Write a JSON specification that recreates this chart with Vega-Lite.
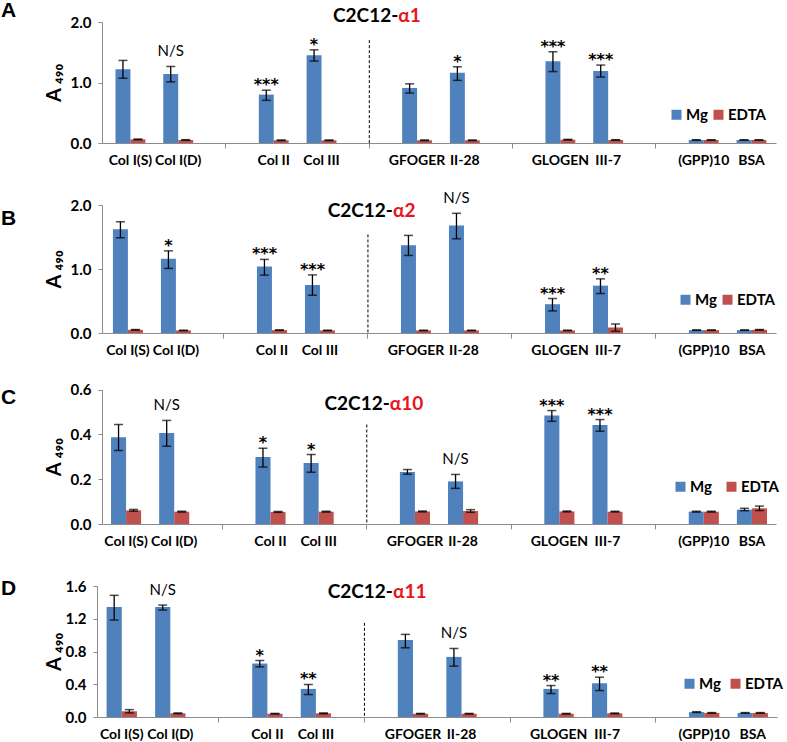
{
  "$schema": "https://vega.github.io/schema/vega-lite/v6.json",
  "padding": {"left": 1, "top": 0, "right": 0, "bottom": 0},
  "background": "white",
  "datasets": {
    "bars": [
      {"p":"A","cat":"Col I(S)","cond":"Mg","v":1.22,"lo":1.07,"hi":1.365},
      {"p":"A","cat":"Col I(S)","cond":"EDTA","v":0.06,"lo":0.054,"hi":0.066},
      {"p":"A","cat":"Col I(D)","cond":"Mg","v":1.14,"lo":1.01,"hi":1.265,"sig":"N/S"},
      {"p":"A","cat":"Col I(D)","cond":"EDTA","v":0.05,"lo":0.045,"hi":0.055},
      {"p":"A","cat":"Col II","cond":"Mg","v":0.8,"lo":0.705,"hi":0.873,"sig":"***"},
      {"p":"A","cat":"Col II","cond":"EDTA","v":0.045,"lo":0.04,"hi":0.05},
      {"p":"A","cat":"Col III","cond":"Mg","v":1.45,"lo":1.355,"hi":1.54,"sig":"*"},
      {"p":"A","cat":"Col III","cond":"EDTA","v":0.045,"lo":0.04,"hi":0.05},
      {"p":"A","cat":"GFOGER","cond":"Mg","v":0.91,"lo":0.825,"hi":0.978},
      {"p":"A","cat":"GFOGER","cond":"EDTA","v":0.045,"lo":0.04,"hi":0.05},
      {"p":"A","cat":"II-28","cond":"Mg","v":1.16,"lo":1.035,"hi":1.26,"sig":"*"},
      {"p":"A","cat":"II-28","cond":"EDTA","v":0.045,"lo":0.04,"hi":0.05},
      {"p":"A","cat":"GLOGEN","cond":"Mg","v":1.35,"lo":1.18,"hi":1.508,"sig":"***"},
      {"p":"A","cat":"GLOGEN","cond":"EDTA","v":0.055,"lo":0.05,"hi":0.06},
      {"p":"A","cat":"III-7","cond":"Mg","v":1.19,"lo":1.09,"hi":1.288,"sig":"***"},
      {"p":"A","cat":"III-7","cond":"EDTA","v":0.05,"lo":0.045,"hi":0.055},
      {"p":"A","cat":"(GPP)10","cond":"Mg","v":0.05,"lo":0.047,"hi":0.053},
      {"p":"A","cat":"(GPP)10","cond":"EDTA","v":0.05,"lo":0.047,"hi":0.053},
      {"p":"A","cat":"BSA","cond":"Mg","v":0.05,"lo":0.047,"hi":0.053},
      {"p":"A","cat":"BSA","cond":"EDTA","v":0.05,"lo":0.047,"hi":0.053},

      {"p":"B","cat":"Col I(S)","cond":"Mg","v":1.62,"lo":1.488,"hi":1.738},
      {"p":"B","cat":"Col I(S)","cond":"EDTA","v":0.05,"lo":0.046,"hi":0.054},
      {"p":"B","cat":"Col I(D)","cond":"Mg","v":1.16,"lo":1.009,"hi":1.284,"sig":"*"},
      {"p":"B","cat":"Col I(D)","cond":"EDTA","v":0.04,"lo":0.036,"hi":0.044},
      {"p":"B","cat":"Col II","cond":"Mg","v":1.04,"lo":0.904,"hi":1.15,"sig":"***"},
      {"p":"B","cat":"Col II","cond":"EDTA","v":0.045,"lo":0.041,"hi":0.049},
      {"p":"B","cat":"Col III","cond":"Mg","v":0.75,"lo":0.59,"hi":0.908,"sig":"***"},
      {"p":"B","cat":"Col III","cond":"EDTA","v":0.04,"lo":0.036,"hi":0.044},
      {"p":"B","cat":"GFOGER","cond":"Mg","v":1.37,"lo":1.212,"hi":1.525},
      {"p":"B","cat":"GFOGER","cond":"EDTA","v":0.04,"lo":0.036,"hi":0.044},
      {"p":"B","cat":"II-28","cond":"Mg","v":1.68,"lo":1.472,"hi":1.87,"sig":"N/S"},
      {"p":"B","cat":"II-28","cond":"EDTA","v":0.04,"lo":0.036,"hi":0.044},
      {"p":"B","cat":"GLOGEN","cond":"Mg","v":0.45,"lo":0.345,"hi":0.539,"sig":"***"},
      {"p":"B","cat":"GLOGEN","cond":"EDTA","v":0.04,"lo":0.036,"hi":0.044},
      {"p":"B","cat":"III-7","cond":"Mg","v":0.74,"lo":0.617,"hi":0.846,"sig":"**"},
      {"p":"B","cat":"III-7","cond":"EDTA","v":0.085,"lo":0.027,"hi":0.141},
      {"p":"B","cat":"(GPP)10","cond":"Mg","v":0.045,"lo":0.042,"hi":0.048},
      {"p":"B","cat":"(GPP)10","cond":"EDTA","v":0.045,"lo":0.042,"hi":0.048},
      {"p":"B","cat":"BSA","cond":"Mg","v":0.045,"lo":0.042,"hi":0.048},
      {"p":"B","cat":"BSA","cond":"EDTA","v":0.05,"lo":0.046,"hi":0.054},

      {"p":"C","cat":"Col I(S)","cond":"Mg","v":0.387,"lo":0.328,"hi":0.444},
      {"p":"C","cat":"Col I(S)","cond":"EDTA","v":0.061,"lo":0.057,"hi":0.065},
      {"p":"C","cat":"Col I(D)","cond":"Mg","v":0.406,"lo":0.347,"hi":0.462,"sig":"N/S"},
      {"p":"C","cat":"Col I(D)","cond":"EDTA","v":0.055,"lo":0.053,"hi":0.057},
      {"p":"C","cat":"Col II","cond":"Mg","v":0.299,"lo":0.254,"hi":0.338,"sig":"*"},
      {"p":"C","cat":"Col II","cond":"EDTA","v":0.054,"lo":0.052,"hi":0.056},
      {"p":"C","cat":"Col III","cond":"Mg","v":0.272,"lo":0.231,"hi":0.31,"sig":"*"},
      {"p":"C","cat":"Col III","cond":"EDTA","v":0.055,"lo":0.053,"hi":0.057},
      {"p":"C","cat":"GFOGER","cond":"Mg","v":0.232,"lo":0.222,"hi":0.243},
      {"p":"C","cat":"GFOGER","cond":"EDTA","v":0.056,"lo":0.054,"hi":0.058},
      {"p":"C","cat":"II-28","cond":"Mg","v":0.19,"lo":0.159,"hi":0.221,"sig":"N/S"},
      {"p":"C","cat":"II-28","cond":"EDTA","v":0.058,"lo":0.052,"hi":0.064},
      {"p":"C","cat":"GLOGEN","cond":"Mg","v":0.484,"lo":0.458,"hi":0.506,"sig":"***"},
      {"p":"C","cat":"GLOGEN","cond":"EDTA","v":0.056,"lo":0.054,"hi":0.058},
      {"p":"C","cat":"III-7","cond":"Mg","v":0.442,"lo":0.414,"hi":0.466,"sig":"***"},
      {"p":"C","cat":"III-7","cond":"EDTA","v":0.055,"lo":0.053,"hi":0.057},
      {"p":"C","cat":"(GPP)10","cond":"Mg","v":0.055,"lo":0.053,"hi":0.057},
      {"p":"C","cat":"(GPP)10","cond":"EDTA","v":0.055,"lo":0.053,"hi":0.057},
      {"p":"C","cat":"BSA","cond":"Mg","v":0.064,"lo":0.059,"hi":0.07},
      {"p":"C","cat":"BSA","cond":"EDTA","v":0.07,"lo":0.06,"hi":0.08},

      {"p":"D","cat":"Col I(S)","cond":"Mg","v":1.343,"lo":1.184,"hi":1.486},
      {"p":"D","cat":"Col I(S)","cond":"EDTA","v":0.07,"lo":0.05,"hi":0.09},
      {"p":"D","cat":"Col I(D)","cond":"Mg","v":1.343,"lo":1.306,"hi":1.367,"sig":"N/S"},
      {"p":"D","cat":"Col I(D)","cond":"EDTA","v":0.045,"lo":0.04,"hi":0.05},
      {"p":"D","cat":"Col II","cond":"Mg","v":0.653,"lo":0.612,"hi":0.69,"sig":"*"},
      {"p":"D","cat":"Col II","cond":"EDTA","v":0.04,"lo":0.036,"hi":0.044},
      {"p":"D","cat":"Col III","cond":"Mg","v":0.343,"lo":0.274,"hi":0.397,"sig":"**"},
      {"p":"D","cat":"Col III","cond":"EDTA","v":0.045,"lo":0.04,"hi":0.05},
      {"p":"D","cat":"GFOGER","cond":"Mg","v":0.939,"lo":0.845,"hi":1.009},
      {"p":"D","cat":"GFOGER","cond":"EDTA","v":0.04,"lo":0.036,"hi":0.044},
      {"p":"D","cat":"II-28","cond":"Mg","v":0.734,"lo":0.621,"hi":0.837,"sig":"N/S"},
      {"p":"D","cat":"II-28","cond":"EDTA","v":0.04,"lo":0.036,"hi":0.044},
      {"p":"D","cat":"GLOGEN","cond":"Mg","v":0.343,"lo":0.286,"hi":0.384,"sig":"**"},
      {"p":"D","cat":"GLOGEN","cond":"EDTA","v":0.04,"lo":0.036,"hi":0.044},
      {"p":"D","cat":"III-7","cond":"Mg","v":0.412,"lo":0.323,"hi":0.486,"sig":"**"},
      {"p":"D","cat":"III-7","cond":"EDTA","v":0.045,"lo":0.04,"hi":0.05},
      {"p":"D","cat":"(GPP)10","cond":"Mg","v":0.06,"lo":0.055,"hi":0.065},
      {"p":"D","cat":"(GPP)10","cond":"EDTA","v":0.05,"lo":0.046,"hi":0.054},
      {"p":"D","cat":"BSA","cond":"Mg","v":0.05,"lo":0.046,"hi":0.054},
      {"p":"D","cat":"BSA","cond":"EDTA","v":0.05,"lo":0.046,"hi":0.054}
    ],
    "titles": [
      {"p":"A","pre":"C2C12-","sub":"α1"},
      {"p":"B","pre":"C2C12-","sub":"α2"},
      {"p":"C","pre":"C2C12-","sub":"α10"},
      {"p":"D","pre":"C2C12-","sub":"α11"}
    ]
  },
  "config": {
    "view": {"stroke": null},
    "axis": {"grid": false, "domainColor": "#8c8c8c", "tickColor": "#8c8c8c", "labelColor": "#000", "labelFont": "Lato", "labelFontWeight": "bold", "titleColor": "#000"},
    "axisX": {"labelFontSize": 14, "labelAngle": 0, "tickSize": 5, "labelPadding": 5, "labelOverlap": false},
    "axisY": {"labelFontSize": 15, "tickSize": 4, "labelPadding": 7, "labelOverlap": false, "titleFont": "Lato", "titleFontSize": 20, "titleFontWeight": "bold", "titlePadding": 6},
    "legend": {"orient": "none", "direction": "horizontal", "symbolType": "square", "symbolSize": 100, "symbolStrokeWidth": 0, "labelFont": "Lato", "labelFontSize": 15, "labelFontWeight": "bold", "labelColor": "#000", "labelOffset": 2, "padding": 0},
    "title": {"anchor": "start", "frame": "group", "dx": -101, "font": "Liberation Sans", "fontSize": 21, "fontWeight": "bold", "color": "#000", "offset": 0},
    "text": {"font": "Lato"}
  },
  "bounds": "flush",
  "spacing": 56,
  "resolve": {"scale": {"x": "independent", "y": "independent", "color": "independent", "xOffset": "independent"}, "legend": {"color": "independent"}},
  "vconcat": [
    {
      "title": {"text": "A", "dy": 18},
      "width": 674,
      "height": 121,
      "data": {"name": "bars"},
      "transform": [{"filter": "datum.p === 'A'"}],
      "layer": [
        {
          "mark": {"type": "bar"},
          "encoding": {
            "x": {"field": "cat", "type": "nominal", "title": null,
              "scale": {"domain": ["Col I(S)","Col I(D)","_1","Col II","Col III","_2","GFOGER","II-28","_3","GLOGEN","III-7","_4","(GPP)10","BSA"], "paddingInner": 0, "paddingOuter": 0.054, "align": 0.88},
              "axis": {"labelExpr": "indexof(datum.value,'_') === 0 ? '' : datum.label", "tickOpacity": {"condition": {"test": "indexof(datum.value,'_') === 0", "value": 1}, "value": 0}}},
            "xOffset": {"field": "cond", "type": "nominal", "scale": {"domain": ["Mg","EDTA"], "paddingInner": 0, "paddingOuter": 0.6}},
            "y": {"field": "v", "type": "quantitative", "title": "A ₄₉₀", "scale": {"domain": [0, 2], "nice": false, "range": [121, 0]}, "axis": {"values": [0, 1, 2], "format": ".1f", "labelOverlap": false}},
            "color": {"field": "cond", "type": "nominal", "scale": {"domain": ["Mg","EDTA"], "range": ["#4F81BD","#C0504D"]}, "legend": {"title": null, "legendX": 567, "legendY": 85, "columnPadding": 3}}
          }
        },
        {
          "mark": {"type": "rule", "color": "#000", "strokeWidth": 1.3},
          "encoding": {
            "x": {"field": "cat", "type": "nominal", "title": null},
            "xOffset": {"field": "cond", "type": "nominal"},
            "y": {"field": "lo", "type": "quantitative", "title": "A ₄₉₀", "axis": {"values": [0, 1, 2], "format": ".1f", "labelOverlap": false}},
            "y2": {"field": "hi"}
          }
        },
        {
          "mark": {"type": "tick", "color": "#000", "thickness": 1.5, "size": 9},
          "encoding": {
            "x": {"field": "cat", "type": "nominal", "title": null},
            "xOffset": {"field": "cond", "type": "nominal"},
            "y": {"field": "lo", "type": "quantitative", "title": "A ₄₉₀", "axis": {"values": [0, 1, 2], "format": ".1f", "labelOverlap": false}}
          }
        },
        {
          "mark": {"type": "tick", "color": "#000", "thickness": 1.5, "size": 9},
          "encoding": {
            "x": {"field": "cat", "type": "nominal", "title": null},
            "xOffset": {"field": "cond", "type": "nominal"},
            "y": {"field": "hi", "type": "quantitative", "title": "A ₄₉₀", "axis": {"values": [0, 1, 2], "format": ".1f", "labelOverlap": false}}
          }
        },
        {
          "transform": [{"filter": "datum.sig === 'N/S'"}],
          "mark": {"type": "text", "fontSize": 15, "baseline": "alphabetic", "dy": -10, "color": "#000"},
          "encoding": {
            "x": {"field": "cat", "type": "nominal", "title": null},
            "xOffset": {"field": "cond", "type": "nominal"},
            "y": {"field": "hi", "type": "quantitative", "title": "A ₄₉₀", "axis": {"values": [0, 1, 2], "format": ".1f", "labelOverlap": false}},
            "text": {"field": "sig"}
          }
        },
        {
          "transform": [{"filter": "datum.sig && datum.sig !== 'N/S'"}],
          "mark": {"type": "text", "font": "DejaVu Sans", "fontSize": 16, "fontWeight": "bold", "baseline": "alphabetic", "dy": 0, "color": "#000"},
          "encoding": {
            "x": {"field": "cat", "type": "nominal", "title": null},
            "xOffset": {"field": "cond", "type": "nominal"},
            "y": {"field": "hi", "type": "quantitative", "title": "A ₄₉₀", "axis": {"values": [0, 1, 2], "format": ".1f", "labelOverlap": false}},
            "text": {"field": "sig"}
          }
        },
        {
          "data": {"name": "titles"},
          "transform": [{"filter": "datum.p === 'A'"}],
          "mark": {"type": "rule", "color": "#000", "strokeWidth": 1, "strokeDash": [3, 2]},
          "encoding": {
            "x": {"datum": "_2", "type": "nominal", "title": null},
            "y": {"datum": 1.7, "type": "quantitative", "title": "A ₄₉₀", "axis": {"values": [0, 1, 2], "format": ".1f", "labelOverlap": false}},
            "y2": {"datum": 0}
          }
        },
        {
          "data": {"name": "titles"},
          "transform": [{"filter": "datum.p === 'A'"}],
          "mark": {"type": "text", "fontSize": 19, "fontWeight": "bold", "align": "right", "baseline": "middle", "dx": 29, "dy": -6, "color": "#000"},
          "encoding": {
            "x": {"datum": "_2", "type": "nominal", "title": null},
            "y": {"datum": 2, "type": "quantitative", "title": "A ₄₉₀", "axis": {"values": [0, 1, 2], "format": ".1f", "labelOverlap": false}},
            "text": {"field": "pre"}
          }
        },
        {
          "data": {"name": "titles"},
          "transform": [{"filter": "datum.p === 'A'"}],
          "mark": {"type": "text", "fontSize": 19, "fontWeight": "bold", "align": "left", "baseline": "middle", "dx": 29, "dy": -6, "color": "#E8141B"},
          "encoding": {
            "x": {"datum": "_2", "type": "nominal", "title": null},
            "y": {"datum": 2, "type": "quantitative", "title": "A ₄₉₀", "axis": {"values": [0, 1, 2], "format": ".1f", "labelOverlap": false}},
            "text": {"field": "sub"}
          }
        }
      ]
    },
    {
      "title": {"text": "B", "dy": 42},
      "width": 674,
      "height": 134,
      "data": {"name": "bars"},
      "transform": [{"filter": "datum.p === 'B'"}],
      "layer": [
        {
          "mark": {"type": "bar"},
          "encoding": {
            "x": {"field": "cat", "type": "nominal", "title": null,
              "scale": {"domain": ["Col I(S)","Col I(D)","_1","Col II","Col III","_2","GFOGER","II-28","_3","GLOGEN","III-7","_4","(GPP)10","BSA"], "paddingInner": 0, "paddingOuter": 0.02, "align": 1},
              "axis": {"labelExpr": "indexof(datum.value,'_') === 0 ? '' : datum.label", "tickOpacity": {"condition": {"test": "indexof(datum.value,'_') === 0", "value": 1}, "value": 0}}},
            "xOffset": {"field": "cond", "type": "nominal", "scale": {"domain": ["Mg","EDTA"], "paddingInner": 0, "paddingOuter": 0.6}},
            "y": {"field": "v", "type": "quantitative", "title": "A ₄₉₀", "scale": {"domain": [0, 2], "nice": false, "range": [134, 6]}, "axis": {"values": [0, 1, 2], "format": ".1f", "labelOverlap": false}},
            "color": {"field": "cond", "type": "nominal", "scale": {"domain": ["Mg","EDTA"], "range": ["#4F81BD","#C0504D"]}, "legend": {"title": null, "legendX": 576, "legendY": 93, "columnPadding": 3}}
          }
        },
        {
          "mark": {"type": "rule", "color": "#000", "strokeWidth": 1.3},
          "encoding": {
            "x": {"field": "cat", "type": "nominal", "title": null},
            "xOffset": {"field": "cond", "type": "nominal"},
            "y": {"field": "lo", "type": "quantitative", "title": "A ₄₉₀", "axis": {"values": [0, 1, 2], "format": ".1f", "labelOverlap": false}},
            "y2": {"field": "hi"}
          }
        },
        {
          "mark": {"type": "tick", "color": "#000", "thickness": 1.5, "size": 9},
          "encoding": {
            "x": {"field": "cat", "type": "nominal", "title": null},
            "xOffset": {"field": "cond", "type": "nominal"},
            "y": {"field": "lo", "type": "quantitative", "title": "A ₄₉₀", "axis": {"values": [0, 1, 2], "format": ".1f", "labelOverlap": false}}
          }
        },
        {
          "mark": {"type": "tick", "color": "#000", "thickness": 1.5, "size": 9},
          "encoding": {
            "x": {"field": "cat", "type": "nominal", "title": null},
            "xOffset": {"field": "cond", "type": "nominal"},
            "y": {"field": "hi", "type": "quantitative", "title": "A ₄₉₀", "axis": {"values": [0, 1, 2], "format": ".1f", "labelOverlap": false}}
          }
        },
        {
          "transform": [{"filter": "datum.sig === 'N/S'"}],
          "mark": {"type": "text", "fontSize": 15, "baseline": "alphabetic", "dy": -10, "color": "#000"},
          "encoding": {
            "x": {"field": "cat", "type": "nominal", "title": null},
            "xOffset": {"field": "cond", "type": "nominal"},
            "y": {"field": "hi", "type": "quantitative", "title": "A ₄₉₀", "axis": {"values": [0, 1, 2], "format": ".1f", "labelOverlap": false}},
            "text": {"field": "sig"}
          }
        },
        {
          "transform": [{"filter": "datum.sig && datum.sig !== 'N/S'"}],
          "mark": {"type": "text", "font": "DejaVu Sans", "fontSize": 16, "fontWeight": "bold", "baseline": "alphabetic", "dy": 0, "color": "#000"},
          "encoding": {
            "x": {"field": "cat", "type": "nominal", "title": null},
            "xOffset": {"field": "cond", "type": "nominal"},
            "y": {"field": "hi", "type": "quantitative", "title": "A ₄₉₀", "axis": {"values": [0, 1, 2], "format": ".1f", "labelOverlap": false}},
            "text": {"field": "sig"}
          }
        },
        {
          "data": {"name": "titles"},
          "transform": [{"filter": "datum.p === 'B'"}],
          "mark": {"type": "rule", "color": "#000", "strokeWidth": 1, "strokeDash": [3, 2]},
          "encoding": {
            "x": {"datum": "_2", "type": "nominal", "title": null},
            "y": {"datum": 1.54, "type": "quantitative", "title": "A ₄₉₀", "axis": {"values": [0, 1, 2], "format": ".1f", "labelOverlap": false}},
            "y2": {"datum": 0}
          }
        },
        {
          "data": {"name": "titles"},
          "transform": [{"filter": "datum.p === 'B'"}],
          "mark": {"type": "text", "fontSize": 19, "fontWeight": "bold", "align": "right", "baseline": "middle", "dx": 25, "dy": 5.5, "color": "#000"},
          "encoding": {
            "x": {"datum": "_2", "type": "nominal", "title": null},
            "y": {"datum": 2, "type": "quantitative", "title": "A ₄₉₀", "axis": {"values": [0, 1, 2], "format": ".1f", "labelOverlap": false}},
            "text": {"field": "pre"}
          }
        },
        {
          "data": {"name": "titles"},
          "transform": [{"filter": "datum.p === 'B'"}],
          "mark": {"type": "text", "fontSize": 19, "fontWeight": "bold", "align": "left", "baseline": "middle", "dx": 25, "dy": 5.5, "color": "#E8141B"},
          "encoding": {
            "x": {"datum": "_2", "type": "nominal", "title": null},
            "y": {"datum": 2, "type": "quantitative", "title": "A ₄₉₀", "axis": {"values": [0, 1, 2], "format": ".1f", "labelOverlap": false}},
            "text": {"field": "sub"}
          }
        }
      ]
    },
    {
      "title": {"text": "C", "dy": 29},
      "width": 674,
      "height": 135,
      "data": {"name": "bars"},
      "transform": [{"filter": "datum.p === 'C'"}],
      "layer": [
        {
          "mark": {"type": "bar"},
          "encoding": {
            "x": {"field": "cat", "type": "nominal", "title": null,
              "scale": {"domain": ["Col I(S)","Col I(D)","_1","Col II","Col III","_2","GFOGER","II-28","_3","GLOGEN","III-7","_4","(GPP)10","BSA"], "paddingInner": 0, "paddingOuter": 0},
              "axis": {"labelExpr": "indexof(datum.value,'_') === 0 ? '' : datum.label", "tickOpacity": {"condition": {"test": "indexof(datum.value,'_') === 0", "value": 1}, "value": 0}}},
            "xOffset": {"field": "cond", "type": "nominal", "scale": {"domain": ["Mg","EDTA"], "paddingInner": 0, "paddingOuter": 0.6}},
            "y": {"field": "v", "type": "quantitative", "title": "A ₄₉₀", "scale": {"domain": [0, 0.6], "nice": false, "range": [135, 0.5]}, "axis": {"values": [0, 0.2, 0.4, 0.6], "format": ".1f", "labelOverlap": false}},
            "color": {"field": "cond", "type": "nominal", "scale": {"domain": ["Mg","EDTA"], "range": ["#4F81BD","#C0504D"]}, "legend": {"title": null, "legendX": 571, "legendY": 90, "columnPadding": 12}}
          }
        },
        {
          "mark": {"type": "rule", "color": "#000", "strokeWidth": 1.3},
          "encoding": {
            "x": {"field": "cat", "type": "nominal", "title": null},
            "xOffset": {"field": "cond", "type": "nominal"},
            "y": {"field": "lo", "type": "quantitative", "title": "A ₄₉₀", "axis": {"values": [0, 0.2, 0.4, 0.6], "format": ".1f", "labelOverlap": false}},
            "y2": {"field": "hi"}
          }
        },
        {
          "mark": {"type": "tick", "color": "#000", "thickness": 1.5, "size": 9},
          "encoding": {
            "x": {"field": "cat", "type": "nominal", "title": null},
            "xOffset": {"field": "cond", "type": "nominal"},
            "y": {"field": "lo", "type": "quantitative", "title": "A ₄₉₀", "axis": {"values": [0, 0.2, 0.4, 0.6], "format": ".1f", "labelOverlap": false}}
          }
        },
        {
          "mark": {"type": "tick", "color": "#000", "thickness": 1.5, "size": 9},
          "encoding": {
            "x": {"field": "cat", "type": "nominal", "title": null},
            "xOffset": {"field": "cond", "type": "nominal"},
            "y": {"field": "hi", "type": "quantitative", "title": "A ₄₉₀", "axis": {"values": [0, 0.2, 0.4, 0.6], "format": ".1f", "labelOverlap": false}}
          }
        },
        {
          "transform": [{"filter": "datum.sig === 'N/S'"}],
          "mark": {"type": "text", "fontSize": 15, "baseline": "alphabetic", "dy": -10, "color": "#000"},
          "encoding": {
            "x": {"field": "cat", "type": "nominal", "title": null},
            "xOffset": {"field": "cond", "type": "nominal"},
            "y": {"field": "hi", "type": "quantitative", "title": "A ₄₉₀", "axis": {"values": [0, 0.2, 0.4, 0.6], "format": ".1f", "labelOverlap": false}},
            "text": {"field": "sig"}
          }
        },
        {
          "transform": [{"filter": "datum.sig && datum.sig !== 'N/S'"}],
          "mark": {"type": "text", "font": "DejaVu Sans", "fontSize": 16, "fontWeight": "bold", "baseline": "alphabetic", "dy": 0, "color": "#000"},
          "encoding": {
            "x": {"field": "cat", "type": "nominal", "title": null},
            "xOffset": {"field": "cond", "type": "nominal"},
            "y": {"field": "hi", "type": "quantitative", "title": "A ₄₉₀", "axis": {"values": [0, 0.2, 0.4, 0.6], "format": ".1f", "labelOverlap": false}},
            "text": {"field": "sig"}
          }
        },
        {
          "data": {"name": "titles"},
          "transform": [{"filter": "datum.p === 'C'"}],
          "mark": {"type": "rule", "color": "#000", "strokeWidth": 1, "strokeDash": [3, 2]},
          "encoding": {
            "x": {"datum": "_2", "type": "nominal", "title": null},
            "y": {"datum": 0.444, "type": "quantitative", "title": "A ₄₉₀", "axis": {"values": [0, 0.2, 0.4, 0.6], "format": ".1f", "labelOverlap": false}},
            "y2": {"datum": 0}
          }
        },
        {
          "data": {"name": "titles"},
          "transform": [{"filter": "datum.p === 'C'"}],
          "mark": {"type": "text", "fontSize": 19, "fontWeight": "bold", "align": "right", "baseline": "middle", "dx": 23, "dy": 14, "color": "#000"},
          "encoding": {
            "x": {"datum": "_2", "type": "nominal", "title": null},
            "y": {"datum": 0.6, "type": "quantitative", "title": "A ₄₉₀", "axis": {"values": [0, 0.2, 0.4, 0.6], "format": ".1f", "labelOverlap": false}},
            "text": {"field": "pre"}
          }
        },
        {
          "data": {"name": "titles"},
          "transform": [{"filter": "datum.p === 'C'"}],
          "mark": {"type": "text", "fontSize": 19, "fontWeight": "bold", "align": "left", "baseline": "middle", "dx": 23, "dy": 14, "color": "#E8141B"},
          "encoding": {
            "x": {"datum": "_2", "type": "nominal", "title": null},
            "y": {"datum": 0.6, "type": "quantitative", "title": "A ₄₉₀", "axis": {"values": [0, 0.2, 0.4, 0.6], "format": ".1f", "labelOverlap": false}},
            "text": {"field": "sub"}
          }
        }
      ]
    },
    {
      "title": {"text": "D", "dy": 24},
      "width": 674,
      "height": 137,
      "data": {"name": "bars"},
      "transform": [{"filter": "datum.p === 'D'"}],
      "layer": [
        {
          "mark": {"type": "bar"},
          "encoding": {
            "x": {"field": "cat", "type": "nominal", "title": null,
              "scale": {"domain": ["Col I(S)","Col I(D)","_1","Col II","Col III","_2","GFOGER","II-28","_3","GLOGEN","III-7","_4","(GPP)10","BSA"], "paddingInner": 0, "paddingOuter": 0, "range": [-4.5, 675]},
              "axis": {"labelExpr": "indexof(datum.value,'_') === 0 ? '' : datum.label", "tickOpacity": {"condition": {"test": "indexof(datum.value,'_') === 0", "value": 1}, "value": 0}}},
            "xOffset": {"field": "cond", "type": "nominal", "scale": {"domain": ["Mg","EDTA"], "paddingInner": 0, "paddingOuter": 0.6}},
            "y": {"field": "v", "type": "quantitative", "title": "A ₄₉₀", "scale": {"domain": [0, 1.6], "nice": false, "range": [137, 6]}, "axis": {"values": [0, 0.4, 0.8, 1.2, 1.6], "format": ".1f", "offset": 5, "labelOverlap": false, "titlePadding": 1}},
            "color": {"field": "cond", "type": "nominal", "scale": {"domain": ["Mg","EDTA"], "range": ["#4F81BD","#C0504D"]}, "legend": {"title": null, "legendX": 580, "legendY": 96, "columnPadding": 7}}
          }
        },
        {
          "mark": {"type": "rule", "color": "#000", "strokeWidth": 1.3},
          "encoding": {
            "x": {"field": "cat", "type": "nominal", "title": null},
            "xOffset": {"field": "cond", "type": "nominal"},
            "y": {"field": "lo", "type": "quantitative", "title": "A ₄₉₀", "axis": {"values": [0, 0.4, 0.8, 1.2, 1.6], "format": ".1f", "offset": 5, "labelOverlap": false, "titlePadding": 1}},
            "y2": {"field": "hi"}
          }
        },
        {
          "mark": {"type": "tick", "color": "#000", "thickness": 1.5, "size": 9},
          "encoding": {
            "x": {"field": "cat", "type": "nominal", "title": null},
            "xOffset": {"field": "cond", "type": "nominal"},
            "y": {"field": "lo", "type": "quantitative", "title": "A ₄₉₀", "axis": {"values": [0, 0.4, 0.8, 1.2, 1.6], "format": ".1f", "offset": 5, "labelOverlap": false, "titlePadding": 1}}
          }
        },
        {
          "mark": {"type": "tick", "color": "#000", "thickness": 1.5, "size": 9},
          "encoding": {
            "x": {"field": "cat", "type": "nominal", "title": null},
            "xOffset": {"field": "cond", "type": "nominal"},
            "y": {"field": "hi", "type": "quantitative", "title": "A ₄₉₀", "axis": {"values": [0, 0.4, 0.8, 1.2, 1.6], "format": ".1f", "offset": 5, "labelOverlap": false, "titlePadding": 1}}
          }
        },
        {
          "transform": [{"filter": "datum.sig === 'N/S'"}],
          "mark": {"type": "text", "fontSize": 15, "baseline": "alphabetic", "dy": -10, "color": "#000"},
          "encoding": {
            "x": {"field": "cat", "type": "nominal", "title": null},
            "xOffset": {"field": "cond", "type": "nominal"},
            "y": {"field": "hi", "type": "quantitative", "title": "A ₄₉₀", "axis": {"values": [0, 0.4, 0.8, 1.2, 1.6], "format": ".1f", "offset": 5, "labelOverlap": false, "titlePadding": 1}},
            "text": {"field": "sig"}
          }
        },
        {
          "transform": [{"filter": "datum.sig && datum.sig !== 'N/S'"}],
          "mark": {"type": "text", "font": "DejaVu Sans", "fontSize": 16, "fontWeight": "bold", "baseline": "alphabetic", "dy": 0, "color": "#000"},
          "encoding": {
            "x": {"field": "cat", "type": "nominal", "title": null},
            "xOffset": {"field": "cond", "type": "nominal"},
            "y": {"field": "hi", "type": "quantitative", "title": "A ₄₉₀", "axis": {"values": [0, 0.4, 0.8, 1.2, 1.6], "format": ".1f", "offset": 5, "labelOverlap": false, "titlePadding": 1}},
            "text": {"field": "sig"}
          }
        },
        {
          "data": {"name": "titles"},
          "transform": [{"filter": "datum.p === 'D'"}],
          "mark": {"type": "rule", "color": "#000", "strokeWidth": 1, "strokeDash": [3, 2]},
          "encoding": {
            "x": {"datum": "_2", "type": "nominal", "title": null},
            "y": {"datum": 1.15, "type": "quantitative", "title": "A ₄₉₀", "axis": {"values": [0, 0.4, 0.8, 1.2, 1.6], "format": ".1f", "offset": 5, "labelOverlap": false, "titlePadding": 1}},
            "y2": {"datum": 0}
          }
        },
        {
          "data": {"name": "titles"},
          "transform": [{"filter": "datum.p === 'D'"}],
          "mark": {"type": "text", "fontSize": 19, "fontWeight": "bold", "align": "right", "baseline": "middle", "dx": 28.5, "dy": 5.5, "color": "#000"},
          "encoding": {
            "x": {"datum": "_2", "type": "nominal", "title": null},
            "y": {"datum": 1.6, "type": "quantitative", "title": "A ₄₉₀", "axis": {"values": [0, 0.4, 0.8, 1.2, 1.6], "format": ".1f", "offset": 5, "labelOverlap": false, "titlePadding": 1}},
            "text": {"field": "pre"}
          }
        },
        {
          "data": {"name": "titles"},
          "transform": [{"filter": "datum.p === 'D'"}],
          "mark": {"type": "text", "fontSize": 19, "fontWeight": "bold", "align": "left", "baseline": "middle", "dx": 28.5, "dy": 5.5, "color": "#E8141B"},
          "encoding": {
            "x": {"datum": "_2", "type": "nominal", "title": null},
            "y": {"datum": 1.6, "type": "quantitative", "title": "A ₄₉₀", "axis": {"values": [0, 0.4, 0.8, 1.2, 1.6], "format": ".1f", "offset": 5, "labelOverlap": false, "titlePadding": 1}},
            "text": {"field": "sub"}
          }
        }
      ]
    }
  ]
}
